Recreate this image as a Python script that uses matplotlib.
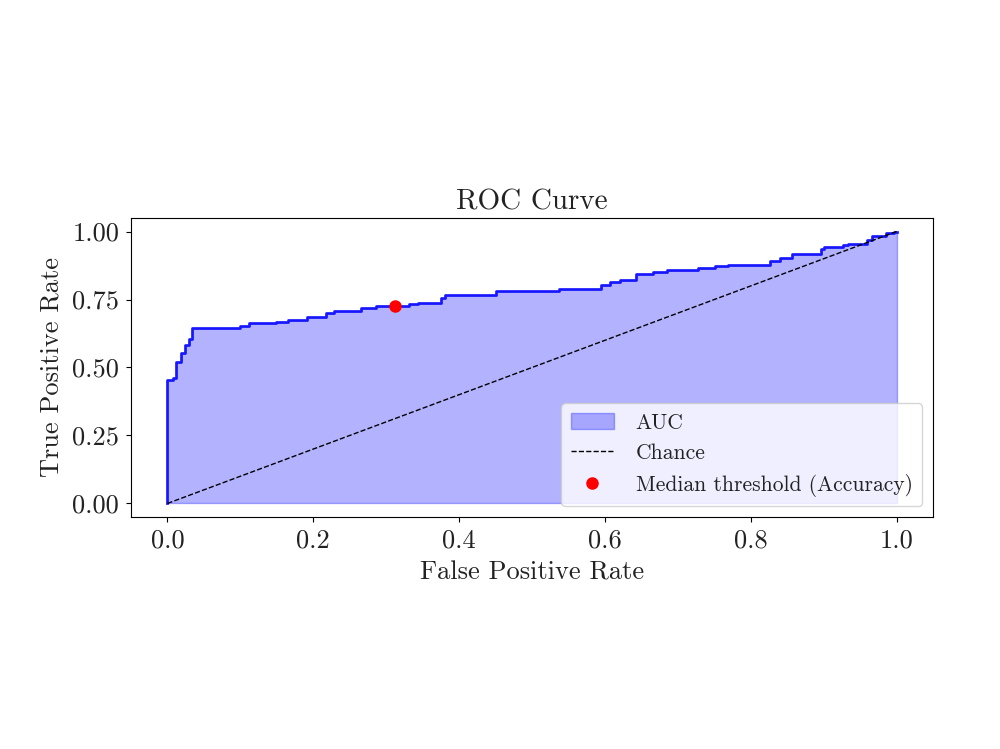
import numpy as np
import matplotlib
matplotlib.use('Agg')
import matplotlib.pyplot as plt

plt.rcParams['font.family'] = 'serif'
plt.rcParams['font.serif'] = ['cmr10']
plt.rcParams['mathtext.fontset'] = 'cm'
plt.rcParams['axes.formatter.use_mathtext'] = True

# ROC curve corner points
fpr = [0.0, 0.0, 0.007, 0.007, 0.012, 0.012, 0.019, 0.019, 0.024, 0.024, 0.029, 0.029, 0.033, 0.033,
       0.099, 0.099, 0.112, 0.112, 0.149, 0.149, 0.165, 0.165, 0.192, 0.192, 0.218, 0.218,
       0.229, 0.229, 0.265, 0.265, 0.286, 0.286, 0.331, 0.331, 0.343, 0.343, 0.375, 0.375,
       0.38, 0.38, 0.450, 0.450, 0.537, 0.537, 0.594, 0.594, 0.607, 0.607, 0.621, 0.621,
       0.642, 0.642, 0.666, 0.666, 0.685, 0.685, 0.728, 0.728, 0.751, 0.751, 0.769, 0.769,
       0.826, 0.826, 0.840, 0.840, 0.856, 0.856, 0.897, 0.897, 0.901, 0.901, 0.927, 0.927,
       0.933, 0.933, 0.959, 0.959, 0.967, 0.967, 0.986, 0.986, 0.997, 0.997, 1.0]
tpr = [0.0, 0.454, 0.454, 0.46, 0.46, 0.52, 0.52, 0.553, 0.553, 0.583, 0.583, 0.605, 0.605, 0.644,
       0.644, 0.651, 0.651, 0.662, 0.662, 0.669, 0.669, 0.675, 0.675, 0.684, 0.684, 0.700,
       0.700, 0.706, 0.706, 0.718, 0.718, 0.728, 0.728, 0.733, 0.733, 0.739, 0.739, 0.755,
       0.755, 0.765, 0.765, 0.780, 0.780, 0.790, 0.790, 0.804, 0.804, 0.813, 0.813, 0.823,
       0.823, 0.845, 0.845, 0.851, 0.851, 0.860, 0.860, 0.866, 0.866, 0.872, 0.872, 0.878,
       0.878, 0.891, 0.891, 0.903, 0.903, 0.918, 0.918, 0.937, 0.937, 0.942, 0.942, 0.952,
       0.952, 0.956, 0.956, 0.970, 0.970, 0.983, 0.983, 0.995, 0.995, 1.0, 1.0]

# punto del umbral mediano
thr_fpr = 0.312
thr_tpr = 0.727

fig = plt.figure(figsize=(10, 7.49), dpi=100)
ax = fig.add_axes([0.131, 0.3097, 0.802, 0.3993])

ax.fill_between(fpr, tpr, color='blue', alpha=0.3, label='AUC')
ax.plot(fpr, tpr, color='blue', lw=2, alpha=0.85)
ax.plot([0, 1], [0, 1], 'k--', lw=1, label='Chance')
ax.plot(thr_fpr, thr_tpr, 'o', color='red', ms=8, label='Median threshold (Accuracy)', zorder=5)

ax.set_xlim(-0.05, 1.05)
ax.set_ylim(-0.05, 1.05)
ax.set_xticks([0.0, 0.2, 0.4, 0.6, 0.8, 1.0])
ax.set_yticks([0.0, 0.25, 0.5, 0.75, 1.0])
ax.set_xticklabels(['0.0', '0.2', '0.4', '0.6', '0.8', '1.0'])
ax.set_yticklabels(['0.00', '0.25', '0.50', '0.75', '1.00'])
ax.tick_params(labelsize=19, labelcolor='#222222', pad=5)
ax.set_xlabel('False Positive Rate', fontsize=19, color='#222222', labelpad=6)
ax.set_ylabel('True Positive Rate', fontsize=19, color='#222222', labelpad=6)
ax.set_title('ROC Curve', fontsize=21, color='#222222', pad=6)
leg = ax.legend(loc='lower right', fontsize=15.5, borderaxespad=0.5, labelspacing=0.5,
                handletextpad=1.0, borderpad=0.45)
for t in leg.get_texts():
    t.set_color('#222222')

plt.savefig('out.png')
